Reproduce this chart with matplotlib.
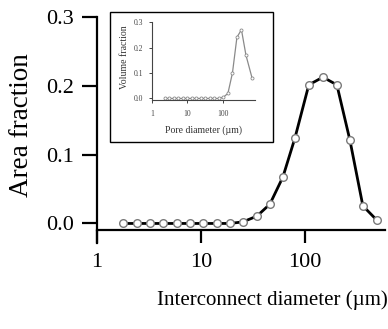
import matplotlib
matplotlib.use("Agg")
import matplotlib.pyplot as plt
from matplotlib.patches import Rectangle

plt.rcParams['font.family'] = ['Liberation Serif', 'DejaVu Serif']

# main curve: interconnect diameter (um) vs area fraction
diam = [1.78, 2.42, 3.23, 4.31, 5.88, 7.84, 10.45, 14.25, 19.0, 25.3,
        34.5, 46.0, 61.4, 80.1, 109, 149, 203, 271, 361, 492]
area = [0.0, 0.0, 0.0, 0.0, 0.0, 0.0, 0.0, 0.0, 0.0, 0.0023,
        0.0106, 0.028, 0.0675, 0.124, 0.2015, 0.2127, 0.2015, 0.121, 0.0256, 0.0048]

# inset: pore diameter (um) vs volume fraction
pore = [2.29, 3.07, 4.13, 5.55, 7.45, 10.0, 13.4, 18.0, 24.2, 32.5,
        43.7, 58.6, 78.7, 105.7, 142, 191, 256, 344, 462, 690]
vol = [0.0, 0.0, 0.0, 0.0, 0.0, 0.0, 0.0, 0.0, 0.0, 0.0,
       0.0, 0.0, 0.0, 0.005, 0.02, 0.1, 0.24, 0.27, 0.17, 0.08]

fig = plt.figure(figsize=(3.88, 3.29), dpi=100)
ax = fig.add_axes([0.25, 0.261, 0.742, 0.687])
ax.plot(diam, area, color='black', lw=2, marker='o', ms=5.5,
        mfc='white', mec='#7a7a7a', mew=1.0, zorder=3)
ax.set_xscale('log')
ax.set_xlim(1, 588)
ax.set_ylim(-0.0286, 0.3)
ax.set_yticks([0.0, 0.1, 0.2, 0.3])
ax.set_yticklabels(['0.0', '0.1', '0.2', '0.3'])
ax.set_xticks([1, 10, 100])
ax.set_xticklabels(['1', '10', '100'])
ax.minorticks_off()
ax.spines['top'].set_visible(False)
ax.spines['right'].set_visible(False)
ax.spines['bottom'].set_position(('data', -0.009))
for s in ['left', 'bottom']:
    ax.spines[s].set_linewidth(1.6)
ax.tick_params(axis='both', width=1.6, labelsize=16)
ax.tick_params(axis='y', length=10.5, pad=6)
ax.tick_params(axis='x', length=9, pad=8)
ax.set_xlabel('Interconnect diameter (µm)', fontsize=15)
ax.xaxis.set_label_coords(0.608, -0.21)
ax.set_ylabel('Area fraction', fontsize=19.5)
ax.yaxis.set_label_coords(-0.219, 0.524)

# inset frame
fig.patches.append(Rectangle((0.2835, 0.568), 0.42, 0.3955, transform=fig.transFigure,
                             fill=True, facecolor='white', edgecolor='black', lw=1.0, zorder=5))
ins = fig.add_axes([0.392, 0.696, 0.265, 0.237], zorder=6)
ins.plot(pore, vol, color='#8a8a8a', lw=0.9, marker='o', ms=2.2,
         mfc='white', mec='#8a8a8a', mew=0.6)
ins.set_xscale('log')
ins.set_xlim(1.14, 830)
ins.set_ylim(-0.006, 0.3)
ins.set_yticks([0.0, 0.1, 0.2, 0.3])
ins.set_yticklabels(['0.0', '0.1', '0.2', '0.3'])
ins.set_xticks([1, 10, 100])
ins.set_xticklabels(['1', '10', '100'])
ins.minorticks_off()
ins.spines['top'].set_visible(False)
ins.spines['right'].set_visible(False)
for s in ['left', 'bottom']:
    ins.spines[s].set_linewidth(0.8)
    ins.spines[s].set_color('#444444')
ins.tick_params(axis='both', length=2.5, width=0.7, labelsize=5.5, colors='#444444')
ins.tick_params(axis='y', pad=4)
ins.tick_params(axis='x', pad=5)
ins.set_xlabel('Pore diameter (µm)', fontsize=7, color='#333333')
ins.xaxis.set_label_coords(0.5, -0.33)
ins.set_ylabel('Volume fraction', fontsize=7, color='#333333')
ins.yaxis.set_label_coords(-0.22, 0.55)

fig.savefig('out.png', dpi=100)
